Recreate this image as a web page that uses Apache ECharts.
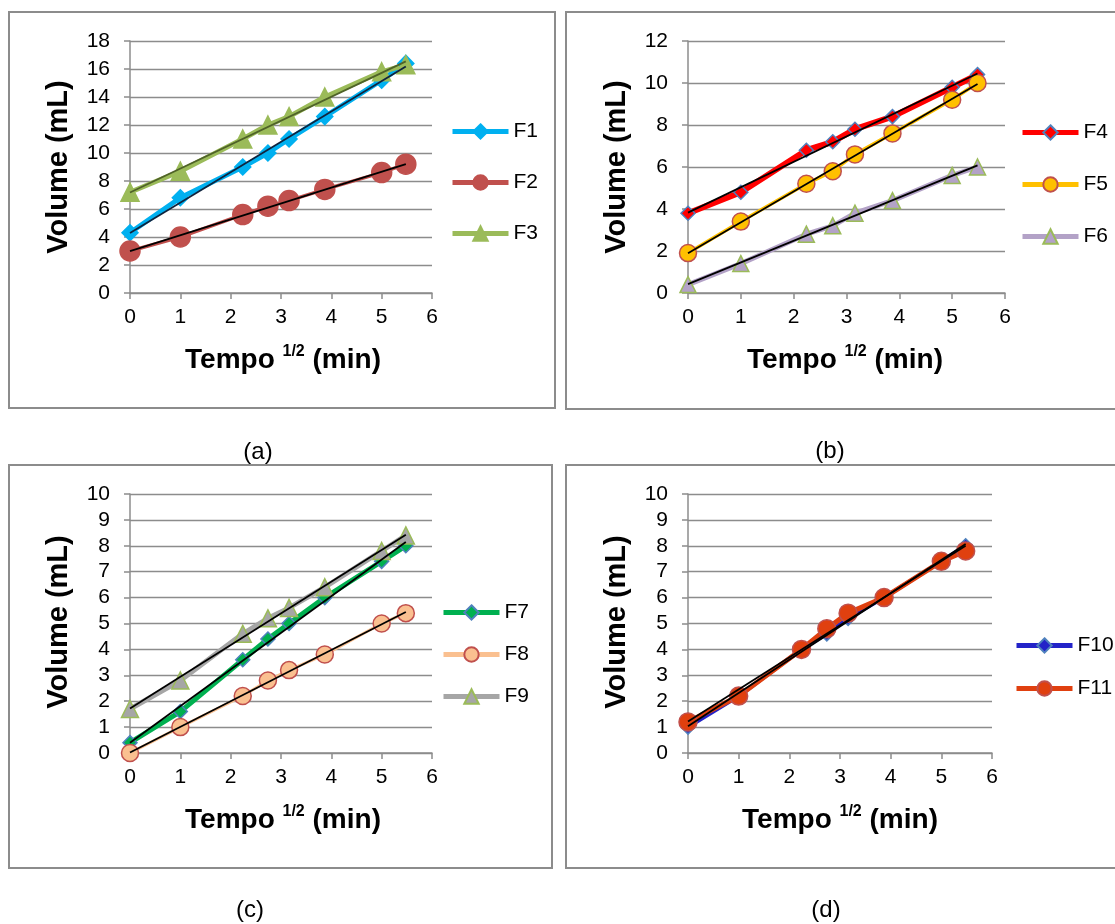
<!DOCTYPE html>
<html>
<head>
<meta charset="utf-8">
<script src="https://cdn.jsdelivr.net/npm/echarts@6/dist/echarts.min.js"></script>
<style>
  html, body { margin: 0; padding: 0; background: #ffffff; }
  #chart { width: 1115px; height: 924px; }
</style>
</head>
<body>
<div id="chart"></div>
<script>
// Square root of sampling time (min^1/2)
const tempoRaiz = [0, 1, 2.24, 2.74, 3.16, 3.87, 5, 5.48];

// Cumulative volume (mL) per formulation
const F1 = [4.3, 6.8, 9.0, 10.0, 11.0, 12.6, 15.2, 16.4];
const F2 = [3.0, 4.0, 5.6, 6.2, 6.6, 7.4, 8.6, 9.2];
const F3 = [7.2, 8.7, 11.0, 12.0, 12.6, 14.0, 15.8, 16.3];
const F4 = [3.8, 4.8, 6.8, 7.2, 7.8, 8.4, 9.8, 10.4];
const F5 = [1.9, 3.4, 5.2, 5.8, 6.6, 7.6, 9.2, 10.0];
const F6 = [0.4, 1.4, 2.8, 3.2, 3.8, 4.4, 5.6, 6.0];
const F7 = [0.4, 1.6, 3.6, 4.4, 5.0, 6.0, 7.4, 8.0];
const F8 = [0.0, 1.0, 2.2, 2.8, 3.2, 3.8, 5.0, 5.4];
const F9 = [1.7, 2.8, 4.6, 5.2, 5.6, 6.4, 7.8, 8.4];
const F10 = [1.0, 2.2, 4.0, 4.6, 5.2, 6.0, 7.4, 8.0];
const F11 = [1.2, 2.2, 4.0, 4.8, 5.4, 6.0, 7.4, 7.8];

// Panel labels and axis titles
const panelLabels = ['(a)', '(b)', '(c)', '(d)'];
const yTitle = 'Volume (mL)';
const xTitleParts = ['Tempo ', '1/2', ' (min)'];

const FONT = '"Liberation Sans", Arial, Helvetica, sans-serif';
const GRAY = '#8c8c8c';

// Layout and styling of each panel
const panels = [
  {
    grid: { left: 130, top: 41, width: 302, height: 252 },
    yMax: 18, yInterval: 2,
    box: { x: 9, y: 12, width: 546, height: 396 },
    label: [258, 452], yTitlePos: [59, 167], xTitlePos: [283, 360],
    legend: { left: 445, top: 116, itemGap: 30 },
    series: [
      { name: 'F1', data: F1, symbol: 'diamond', size: 16, color: '#00B0F0', fill: '#00B0F0', border: '#00B0F0', width: 5, trend: '#10243E' },
      { name: 'F2', data: F2, symbol: 'circle', size: 20, color: '#C0504D', fill: '#C0504D', border: '#C0504D', width: 3.5, trend: '#000000' },
      { name: 'F3', data: F3, symbol: 'triangle', size: 18, color: '#9BBB59', fill: '#9BBB59', border: '#9BBB59', width: 5, trend: '#4F6228' }
    ]
  },
  {
    grid: { left: 688, top: 41, width: 317, height: 252 },
    yMax: 12, yInterval: 2,
    box: { x: 566, y: 12, width: 570, height: 397 },
    label: [830, 451], yTitlePos: [617, 167], xTitlePos: [845, 360],
    legend: { left: 1015, top: 117, itemGap: 31 },
    series: [
      { name: 'F4', data: F4, symbol: 'diamond', size: 14, color: '#FF0000', fill: '#FF0000', border: '#4F81BD', width: 6, trend: '#000000' },
      { name: 'F5', data: F5, symbol: 'circle', size: 17, color: '#FFC000', fill: '#FFC000', border: '#C0504D', width: 3.5, trend: '#000000' },
      { name: 'F6', data: F6, symbol: 'triangle', size: 16, color: '#B3A2C7', fill: '#B3A2C7', border: '#9BBB59', width: 5, trend: '#000000' }
    ]
  },
  {
    grid: { left: 130, top: 494, width: 302, height: 259 },
    yMax: 10, yInterval: 1,
    box: { x: 9, y: 465, width: 543, height: 403 },
    label: [250, 910], yTitlePos: [59, 622], xTitlePos: [283, 820],
    legend: { left: 436, top: 597, itemGap: 21 },
    series: [
      { name: 'F7', data: F7, symbol: 'diamond', size: 14, color: '#00B050', fill: '#00B050', border: '#4F81BD', width: 5, trend: '#000000' },
      { name: 'F8', data: F8, symbol: 'circle', size: 17, color: '#FAC090', fill: '#FAC090', border: '#C0504D', width: 3, trend: '#000000' },
      { name: 'F9', data: F9, symbol: 'triangle', size: 17, color: '#A6A6A6', fill: '#A6A6A6', border: '#9BBB59', width: 5, trend: '#000000' }
    ]
  },
  {
    grid: { left: 688, top: 494, width: 304, height: 259 },
    yMax: 10, yInterval: 1,
    box: { x: 566, y: 465, width: 570, height: 403 },
    label: [826, 910], yTitlePos: [617, 622], xTitlePos: [840, 820],
    legend: { left: 1009, top: 630, itemGap: 22 },
    series: [
      { name: 'F10', data: F10, symbol: 'diamond', size: 14, color: '#2323C8', fill: '#2323C8', border: '#4F81BD', width: 4, trend: '#000000' },
      { name: 'F11', data: F11, symbol: 'circle', size: 18, color: '#E0400F', fill: '#E0400F', border: '#C0504D', width: 5, trend: '#000000' }
    ]
  }
];

// Least-squares straight line through a series (linear trendline)
function linearFit(xs, ys) {
  const n = xs.length;
  let sx = 0, sy = 0, sxx = 0, sxy = 0;
  for (let i = 0; i < n; i++) {
    sx += xs[i]; sy += ys[i]; sxx += xs[i] * xs[i]; sxy += xs[i] * ys[i];
  }
  const b = (n * sxy - sx * sy) / (n * sxx - sx * sx);
  const a = (sy - b * sx) / n;
  return { a, b };
}

const grids = [], xAxes = [], yAxes = [], series = [], legends = [], graphics = [];

panels.forEach((p, idx) => {
  grids.push(Object.assign({}, p.grid));

  xAxes.push({
    gridIndex: idx, type: 'value', min: 0, max: 6, interval: 1,
    axisLine: { show: true, onZero: false, lineStyle: { color: GRAY, width: 1.5 } },
    axisTick: { show: true, length: 6, lineStyle: { color: GRAY, width: 1.5 } },
    axisLabel: { color: '#000', fontSize: 21, fontFamily: FONT, margin: 14 },
    splitLine: { show: false }
  });

  yAxes.push({
    gridIndex: idx, type: 'value', min: 0, max: p.yMax, interval: p.yInterval,
    axisLine: { show: true, lineStyle: { color: GRAY, width: 1.5 } },
    axisTick: { show: true, length: 6, lineStyle: { color: GRAY, width: 1.5 } },
    axisLabel: { color: '#000', fontSize: 21, fontFamily: FONT, margin: 20 },
    splitLine: { show: true, lineStyle: { color: GRAY, width: 1.3 } }
  });

  p.series.forEach(s => {
    series.push({
      name: s.name, type: 'line', xAxisIndex: idx, yAxisIndex: idx,
      data: tempoRaiz.map((x, i) => [x, s.data[i]]),
      symbol: s.symbol, symbolSize: s.size, showSymbol: true,
      lineStyle: { color: s.color, width: s.width },
      itemStyle: { color: s.fill, borderColor: s.border, borderWidth: 1.5 },
      emphasis: { disabled: true }, z: 2
    });
  });

  // Linear trendlines drawn over the data series
  p.series.forEach(s => {
    const fit = linearFit(tempoRaiz, s.data);
    const x0 = tempoRaiz[0], x1 = tempoRaiz[tempoRaiz.length - 1];
    series.push({
      name: s.name + ' linear', type: 'line', xAxisIndex: idx, yAxisIndex: idx,
      data: [[x0, fit.a + fit.b * x0], [x1, fit.a + fit.b * x1]],
      showSymbol: false, symbol: 'none', silent: true,
      lineStyle: { color: s.trend, width: 1.8 },
      emphasis: { disabled: true }, z: 5
    });
  });

  legends.push({
    data: p.series.map(s => s.name),
    orient: 'vertical', left: p.legend.left, top: p.legend.top,
    itemWidth: 56, itemHeight: 18, itemGap: p.legend.itemGap,
    selectedMode: false,
    lineStyle: { width: 5 },
    textStyle: { color: '#000', fontSize: 21, fontFamily: FONT }
  });

  graphics.push({
    type: 'rect', silent: true,
    shape: { x: p.box.x, y: p.box.y, width: p.box.width, height: p.box.height },
    style: { fill: 'none', stroke: GRAY, lineWidth: 2 }
  });
  graphics.push({
    type: 'text', silent: true, x: p.label[0], y: p.label[1],
    style: { text: panelLabels[idx], fill: '#000', font: '24px ' + FONT, align: 'center', verticalAlign: 'middle' }
  });
  graphics.push({
    type: 'text', silent: true, x: p.yTitlePos[0], y: p.yTitlePos[1], rotation: Math.PI / 2,
    style: { text: yTitle, fill: '#000', font: 'bold 29px ' + FONT, align: 'center', verticalAlign: 'middle' }
  });
  graphics.push({
    type: 'text', silent: true, x: p.xTitlePos[0], y: p.xTitlePos[1],
    style: {
      text: '{b|' + xTitleParts[0] + '}{s|' + xTitleParts[1] + '}{b|' + xTitleParts[2] + '}',
      fill: '#000', align: 'center', verticalAlign: 'middle',
      rich: {
        b: { fontSize: 28, fontWeight: 'bold', fontFamily: FONT, fill: '#000', lineHeight: 32 },
        s: { fontSize: 16, fontWeight: 'bold', fontFamily: FONT, fill: '#000', verticalAlign: 'top', lineHeight: 22 }
      }
    }
  });
});

const chart = echarts.init(document.getElementById('chart'), null, { renderer: 'canvas' });
chart.setOption({
  backgroundColor: '#ffffff',
  animation: false,
  grid: grids,
  xAxis: xAxes,
  yAxis: yAxes,
  legend: legends,
  series: series,
  graphic: graphics
});
</script>
</body>
</html>
